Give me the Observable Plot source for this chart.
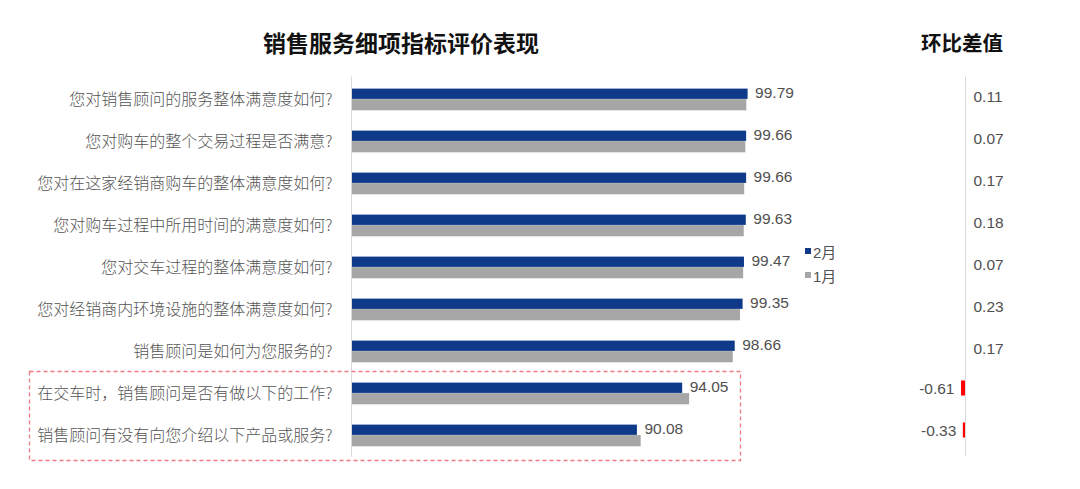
<!DOCTYPE html>
<html>
<head>
<meta charset="utf-8">
<script src="https://cdn.jsdelivr.net/npm/d3@7"></script>
<script src="https://cdn.jsdelivr.net/npm/@observablehq/plot@0.6"></script>
<style>
  html, body { margin: 0; padding: 0; background: #fff; }
  #wrap { position: relative; width: 1080px; height: 489px; overflow: hidden; font-family: "Noto Sans CJK SC", sans-serif; }
  .abs { position: absolute; }
  .title { font-weight: bold; color: #111; white-space: nowrap; }
  .leg { font-family: "Liberation Sans", "Noto Sans CJK SC", sans-serif; font-size: 15px; color: #505050; display: flex; align-items: center; white-space: nowrap; }
  .leg i { display: inline-block; width: 6px; height: 6px; margin-right: 2px; }
</style>
</head>
<body>
<div id="wrap"></div>
<script>
const questions = [
  "您对销售顾问的服务整体满意度如何?",
  "您对购车的整个交易过程是否满意?",
  "您对在这家经销商购车的整体满意度如何?",
  "您对购车过程中所用时间的满意度如何?",
  "您对交车过程的整体满意度如何?",
  "您对经销商内环境设施的整体满意度如何?",
  "销售顾问是如何为您服务的?",
  "在交车时，销售顾问是否有做以下的工作?",
  "销售顾问有没有向您介绍以下产品或服务?"
];
const feb = [99.79, 99.66, 99.66, 99.63, 99.47, 99.35, 98.66, 94.05, 90.08];
const jan = [99.68, 99.59, 99.49, 99.45, 99.40, 99.12, 98.49, 94.66, 90.41];
const diff = [0.11, 0.07, 0.17, 0.18, 0.07, 0.23, 0.17, -0.61, -0.33];
const seriesNames = ["2月", "1月"];
const mainTitle = "销售服务细项指标评价表现";
const diffTitle = "环比差值";
const axisStart = 65;

const blue = "#0f3a8a", gray = "#a6a6a6", red = "#ff0000", txt = "#505050";
const rows = questions.map((q, i) => ({q, feb: feb[i], jan: jan[i], diff: diff[i], base: axisStart}));

const wrap = document.getElementById("wrap");
const H = 489, mT = 76.5, mB = 32.5;

const main = Plot.plot({
  width: 880, height: H,
  marginLeft: 351, marginRight: 73, marginTop: mT, marginBottom: mB,
  style: {fontFamily: "'Noto Sans CJK SC', sans-serif", background: "transparent", color: txt},
  x: {domain: [axisStart, 105], axis: null},
  y: {domain: questions, padding: 0, axis: null},
  marks: [
    Plot.barX(rows, {y: "q", x1: "base", x2: "jan", fill: gray, insetTop: 21.1, insetBottom: 9.7}),
    Plot.barX(rows, {y: "q", x1: "base", x2: "feb", fill: blue, insetTop: 10.6, insetBottom: 21.1}),
    Plot.ruleX([axisStart], {stroke: "#d9d9d9", strokeWidth: 1}),
    Plot.axisY({tickSize: 0, tickPadding: 19, fontSize: 16, fill: "#555555", fontWeight: 300, label: null}),
    Plot.text(rows, {y: "q", x: "feb", text: d => d.feb.toFixed(2), dx: 7, dy: -6, textAnchor: "start",
      fontSize: 15.5, fill: txt, fontFamily: "'Liberation Sans', Arial, sans-serif"})
  ]
});
main.classList.add("abs");
main.style.left = "0px"; main.style.top = "0px";
wrap.appendChild(main);

const side = Plot.plot({
  width: 200, height: H,
  marginLeft: 0, marginRight: 0, marginTop: mT, marginBottom: mB,
  style: {fontFamily: "'Liberation Sans', Arial, sans-serif", background: "transparent", color: txt},
  x: {domain: [-1, 1], range: [85 - 6.56, 85 + 6.56], axis: null},
  y: {domain: questions, padding: 0, axis: null},
  marks: [
    Plot.barX(rows.filter(d => d.diff < 0), {y: "q", x: "diff", fill: red, insetTop: 8.5, insetBottom: 18.5}),
    Plot.ruleX([0], {stroke: "#d9d9d9", strokeWidth: 1}),
    Plot.text(rows.filter(d => d.diff >= 0), {y: "q", x: 0, text: d => d.diff.toFixed(2),
      dx: 8, dy: -2, textAnchor: "start", fontSize: 15.5, fill: txt}),
    Plot.text(rows.filter(d => d.diff < 0), {y: "q", x: "diff", text: d => d.diff.toFixed(2),
      dx: -7, dy: -4, textAnchor: "end", fontSize: 15.5, fill: txt})
  ]
});
side.classList.add("abs");
side.style.left = "880px"; side.style.top = "0px";
wrap.appendChild(side);

// titles
const t1 = document.createElement("div");
t1.className = "abs title"; t1.textContent = mainTitle;
t1.style.cssText += "left:263px; top:26px; font-size:23px; line-height:32px;";
wrap.appendChild(t1);
const t2 = document.createElement("div");
t2.className = "abs title"; t2.textContent = diffTitle;
t2.style.cssText += "left:921px; top:27px; font-size:20.5px; line-height:30px;";
wrap.appendChild(t2);

// legend
[[seriesNames[0], blue, 242], [seriesNames[1], gray, 266]].forEach(([name, c, top]) => {
  const el = document.createElement("div");
  el.className = "abs leg";
  el.style.left = "805px"; el.style.top = top + "px"; el.style.height = "18px";
  el.innerHTML = `<i style="background:${c}"></i><span>${name}</span>`;
  wrap.appendChild(el);
});

// dashed highlight box
const ns = "http://www.w3.org/2000/svg";
const boxSvg = document.createElementNS(ns, "svg");
boxSvg.setAttribute("width", "1080"); boxSvg.setAttribute("height", "489");
boxSvg.setAttribute("class", "abs");
boxSvg.style.left = "0px"; boxSvg.style.top = "0px"; boxSvg.style.pointerEvents = "none";
const rect = document.createElementNS(ns, "rect");
rect.setAttribute("x", "29.5"); rect.setAttribute("y", "371.5");
rect.setAttribute("width", "711"); rect.setAttribute("height", "89");
rect.setAttribute("fill", "none"); rect.setAttribute("stroke", "#f07a80");
rect.setAttribute("stroke-width", "1.3"); rect.setAttribute("stroke-dasharray", "4 3");
boxSvg.appendChild(rect);
wrap.appendChild(boxSvg);
</script>
</body>
</html>
